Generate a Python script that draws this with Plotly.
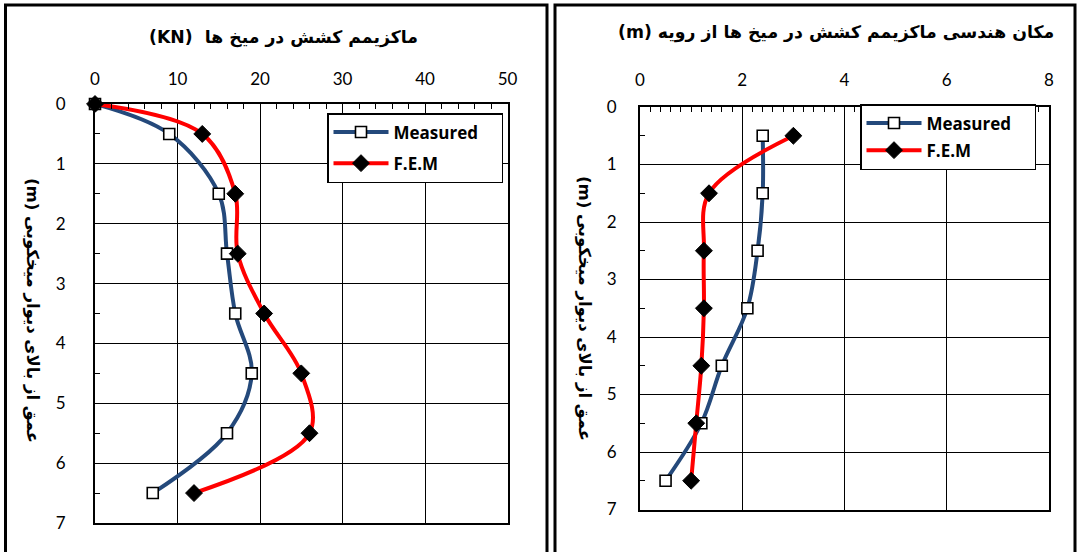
import plotly.graph_objects as go

# ---------------- data ----------------
depth_left = [0, 0.5, 1.5, 2.5, 3.5, 4.5, 5.5, 6.5]
measured_left = [0, 9, 15, 16, 17, 19, 16, 7]
fem_left = [0, 13, 17, 17.3, 20.5, 25, 26, 12]

depth_right = [0.5, 1.5, 2.5, 3.5, 4.5, 5.5, 6.5]
measured_right = [2.4, 2.4, 2.3, 2.1, 1.6, 1.2, 0.5]
fem_right = [3.0, 1.35, 1.25, 1.25, 1.2, 1.1, 1.0]

title_left = "(KN)  ماکزیمم کشش در میخ ها"
title_right = "(m) مکان هندسی ماکزیمم کشش در میخ ها از رویه"
ytitle = "(m) عمق از بالای دیوار میخکوبی"
series_names = ["Measured", "F.E.M"]

W, H = 1078, 552
def px(x):
    return x / W
def py(y):
    return 1 - y / H

BLUE = "#24497B"
RED = "#FF0000"
FONT = "Lato, DejaVu Sans, sans-serif"
LFONT = "Open Sans, DejaVu Sans, sans-serif"
PFONT = "DejaVu Sans, sans-serif"
PAD = "\u00a0" * 4

fig = go.Figure()

def add_series(x, y, xa, ya, legend):
    fig.add_trace(go.Scatter(
        x=x[0], y=y, xaxis=xa, yaxis=ya, name=series_names[0] + PAD, legend=legend,
        legendgroup=legend + "m", mode="lines+markers", cliponaxis=False,
        line=dict(color=BLUE, width=4, shape="spline", smoothing=1.0),
        marker=dict(symbol="square", size=11, color="white",
                    line=dict(color="black", width=1.6))))
    fig.add_trace(go.Scatter(
        x=x[1], y=y, xaxis=xa, yaxis=ya, name=series_names[1] + PAD, legend=legend,
        legendgroup=legend + "f", mode="lines+markers", cliponaxis=False,
        line=dict(color=RED, width=4, shape="spline", smoothing=1.0),
        marker=dict(symbol="diamond", size=13, color="black",
                    line=dict(color="black", width=1))))

add_series([measured_left, fem_left], depth_left, "x", "y", "legend")
add_series([measured_right, fem_right], depth_right, "x2", "y2", "legend2")

axis_common = dict(
    showgrid=True, gridcolor="black", gridwidth=1.4,
    showline=True, linecolor="black", linewidth=2, mirror=True,
    zeroline=False, ticks="", automargin=False,
    tickfont=dict(family=FONT, size=17, color="black"),
)

def minor(d):
    return dict(dtick=d, ticks="inside", ticklen=5, tickcolor="black",
                tickwidth=1.3, showgrid=False)

fig.update_layout(
    width=W, height=H,
    margin=dict(l=0, r=0, t=0, b=0, autoexpand=False),
    paper_bgcolor="white", plot_bgcolor="white",
    showlegend=True,
    xaxis=dict(axis_common, domain=[px(95), px(507.5)], range=[0, 50], dtick=10,
               side="top", anchor="y", ticklabelstandoff=10, minor=minor(2)),
    yaxis=dict(axis_common, domain=[py(523), py(104)], range=[7, 0], dtick=1,
               anchor="x", ticklabelstandoff=24, minor=minor(0.5)),
    xaxis2=dict(axis_common, domain=[px(640), px(1049)], range=[0, 8], dtick=2,
                side="top", anchor="y2", ticklabelstandoff=12, minor=minor(0.2)),
    yaxis2=dict(axis_common, domain=[py(509.5), py(107)], range=[7, 0], dtick=1,
                anchor="x2", ticklabelstandoff=18, minor=minor(0.5)),
    legend=dict(x=px(327), y=py(113), xanchor="left", yanchor="top",
                bgcolor="white", bordercolor="black", borderwidth=1.5,
                tracegroupgap=6, itemwidth=55,
                font=dict(family=LFONT, size=17, color="black", weight="bold")),
    legend2=dict(x=px(860), y=py(104), xanchor="left", yanchor="top",
                 bgcolor="white", bordercolor="black", borderwidth=1.5,
                 tracegroupgap=2, itemwidth=55,
                 font=dict(family=LFONT, size=17, color="black", weight="bold")),
)

# titles
fig.add_annotation(x=px(283), y=py(38), xref="paper", yref="paper", text=title_left,
                   xanchor="center", yanchor="middle", showarrow=False,
                   font=dict(family=PFONT, size=17.3, color="black", weight="bold"))
fig.add_annotation(x=px(836), y=py(32), xref="paper", yref="paper", text=title_right,
                   xanchor="center", yanchor="middle", showarrow=False,
                   font=dict(family=PFONT, size=17.3, color="black", weight="bold"))
# y-axis titles
fig.add_annotation(x=px(32), y=py(310), xref="paper", yref="paper", text=ytitle,
                   xanchor="center", yanchor="middle", textangle=90, showarrow=False,
                   font=dict(family=PFONT, size=16.5, color="black", weight="bold"))
fig.add_annotation(x=px(584), y=py(308), xref="paper", yref="paper", text=ytitle,
                   xanchor="center", yanchor="middle", textangle=90, showarrow=False,
                   font=dict(family=PFONT, size=16.5, color="black", weight="bold"))

# panel frames
fig.add_shape(type="rect", xref="paper", yref="paper", x0=px(5.5), x1=px(547),
              y0=py(560), y1=py(5), line=dict(color="black", width=3))
fig.add_shape(type="rect", xref="paper", yref="paper", x0=px(555), x1=px(1075),
              y0=py(560), y1=py(5), line=dict(color="black", width=3))

fig.write_html("out.html")
